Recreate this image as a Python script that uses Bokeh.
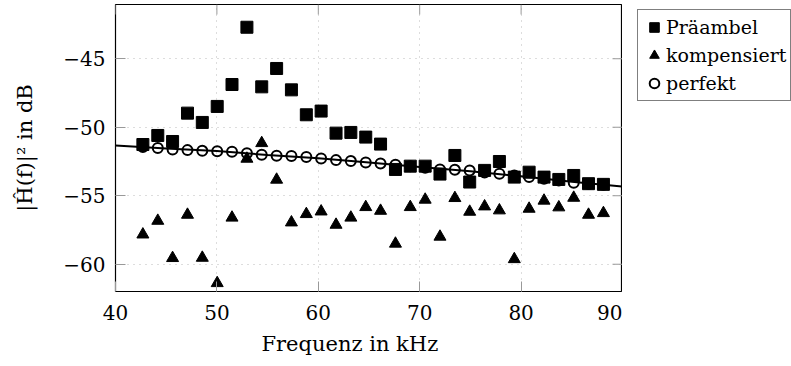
from bokeh.plotting import figure
from bokeh.layouts import row
from bokeh.models import (FixedTicker, Legend, LegendItem, Title, Range1d)
from bokeh.embed import file_html
from bokeh.resources import INLINE

# ---------------- data ----------------
freq_khz = [42.70, 44.17, 45.63, 47.10, 48.56, 50.03, 51.49, 52.96, 54.42, 55.89,
            57.35, 58.82, 60.28, 61.75, 63.21, 64.68, 66.14, 67.61, 69.07, 70.54,
            72.00, 73.47, 74.93, 76.40, 77.86, 79.33, 80.79, 82.26, 83.72, 85.19,
            86.65, 88.12]

praeambel_db = [-51.26, -50.60, -51.04, -48.97, -49.65, -48.48, -46.88, -42.70, -47.05, -45.71,
                -47.27, -49.09, -48.82, -50.43, -50.38, -50.72, -51.23, -53.08, -52.84, -52.84,
                -53.42, -52.06, -54.00, -53.15, -52.50, -53.64, -53.28, -53.64, -53.81, -53.52,
                -54.12, -54.17]

kompensiert_db = [-57.83, -56.83, -59.55, -56.39, -59.53, -61.38, -56.60, -52.30, -51.16, -53.83,
                  -56.95, -56.34, -56.15, -57.12, -56.60, -55.83, -56.10, -58.50, -55.83, -55.29,
                  -57.99, -55.17, -56.17, -55.78, -56.07, -59.63, -55.95, -55.36, -55.85, -55.15,
                  -56.39, -56.27]

perfekt_db = [-51.45, -51.52, -51.62, -51.67, -51.72, -51.75, -51.79, -51.89, -52.01, -52.08,
              -52.10, -52.18, -52.28, -52.40, -52.47, -52.57, -52.64, -52.74, -52.85, -52.95,
              -53.08, -53.10, -53.15, -53.30, -53.40, -53.52, -53.64, -53.76, -53.89, -54.05,
              -54.15, -54.20]

theory_f = [40, 45, 50, 55, 60, 65, 70, 75, 80, 85, 90]
theory_db = [-51.33, -51.55, -51.74, -52.02, -52.26, -52.58, -52.90, -53.22, -53.58, -53.98, -54.32]

x_ticks = [40, 50, 60, 70, 80, 90]
y_ticks = [-60, -55, -50, -45]
y_tick_labels = ["\u221260", "\u221255", "\u221250", "\u221245"]
series_names = ["Pr\u00e4ambel", "kompensiert", "perfekt"]
x_label = "Frequenz in kHz"
y_label = "|\u0124(f)|\u00b2 in dB"

# ---------------- styling ----------------
FONT = "DejaVu Serif"
TICK_COLOR = "#999999"
GRID_COLOR = "#bbbbbb"
W, H = 622, 366          # main plot (frame ends at its right edge)
LEG_W = 169              # legend strip to the right
B_LEFT, B_RIGHT, B_TOP, B_BOTTOM = 115, 0, 4, 75
X0, X1 = 40, 90
Y0, Y1 = -61.99, -41.04
TICK_PX = 10

p = figure(width=W, height=H, output_backend="svg", toolbar_location=None,
           x_range=Range1d(X0, X1), y_range=Range1d(Y0, Y1),
           min_border_left=B_LEFT, min_border_right=B_RIGHT,
           min_border_top=B_TOP, min_border_bottom=B_BOTTOM, title=None)
p.background_fill_color = "white"
p.border_fill_color = "white"
p.outline_line_color = "black"
p.outline_line_width = 1.2

p.xaxis.ticker = FixedTicker(ticks=x_ticks)
p.yaxis.ticker = FixedTicker(ticks=y_ticks)
p.yaxis.major_label_overrides = {t: s for t, s in zip(y_ticks, y_tick_labels)}

for ax in p.xaxis + p.yaxis:
    ax.axis_line_color = None
    ax.major_tick_in = TICK_PX
    ax.major_tick_out = 0
    ax.minor_tick_in = 0
    ax.minor_tick_out = 0
    ax.major_tick_line_color = TICK_COLOR
    ax.major_label_text_font = FONT
    ax.major_label_text_font_size = "20px"
    ax.major_label_text_color = "black"

p.xaxis.major_label_standoff = 13
p.yaxis.major_label_standoff = 10
p.yaxis.axis_label = y_label
p.yaxis.axis_label_text_font = FONT
p.yaxis.axis_label_text_font_size = "21px"
p.yaxis.axis_label_text_font_style = "normal"
p.yaxis.axis_label_text_color = "black"
p.yaxis.axis_label_standoff = 23

p.xgrid.ticker = FixedTicker(ticks=x_ticks)
p.ygrid.ticker = FixedTicker(ticks=y_ticks)
for g in (p.xgrid, p.ygrid):
    g.grid_line_color = GRID_COLOR
    g.grid_line_dash = "1 5"
    g.grid_line_width = 1

# inward tick marks on the top and right frame edges (mirroring the axis ticks)
frame_w = W - B_LEFT - B_RIGHT
frame_h = H - B_TOP - B_BOTTOM
dy = TICK_PX * (Y1 - Y0) / frame_h
dx = TICK_PX * (X1 - X0) / frame_w
p.segment(x0=x_ticks, y0=[Y1] * len(x_ticks), x1=x_ticks, y1=[Y1 - dy] * len(x_ticks),
          line_color=TICK_COLOR, line_width=1)
p.segment(x0=[X1] * len(y_ticks), y0=y_ticks, x1=[X1 - dx] * len(y_ticks), y1=y_ticks,
          line_color=TICK_COLOR, line_width=1)

# ---------------- glyphs ----------------
line_style = dict(line_color="black", line_width=2)
perf_style = dict(marker="circle", size=10, fill_color=None, line_color="black", line_width=2)
pre_style = dict(marker="square", size=12, fill_color="black", line_color="black", line_width=1)
komp_style = dict(marker="triangle", size=12, fill_color="black", line_color="black", line_width=1)

p.line(theory_f, theory_db, **line_style)
p.scatter(freq_khz, perfekt_db, **perf_style)
p.scatter(freq_khz, praeambel_db, **pre_style)
p.scatter(freq_khz, kompensiert_db, **komp_style)

xt = Title(text=x_label, align="left", offset=146, text_font=FONT, text_font_size="21px",
           text_font_style="normal", text_color="black", standoff=14)
p.add_layout(xt, "below")

# ---------------- legend strip (same series, outside its own visible range) ----------------
q = figure(width=LEG_W, height=H, output_backend="svg", toolbar_location=None,
           x_axis_type=None, y_axis_type=None, title=None,
           min_border_left=10, min_border_right=0, min_border_top=0, min_border_bottom=0,
           x_range=Range1d(0, 1), y_range=Range1d(0, 1))
q.outline_line_color = None
q.background_fill_color = "white"
q.border_fill_color = "white"
q.xgrid.visible = False
q.ygrid.visible = False
l_pre = q.scatter(freq_khz, praeambel_db, **pre_style)
l_komp = q.scatter(freq_khz, kompensiert_db, **komp_style)
l_perf = q.scatter(freq_khz, perfekt_db, **perf_style)

legend = Legend(items=[LegendItem(label=series_names[0], renderers=[l_pre]),
                       LegendItem(label=series_names[1], renderers=[l_komp]),
                       LegendItem(label=series_names[2], renderers=[l_perf])],
                location="top_left", border_line_color="black", border_line_width=1,
                background_fill_color="white", background_fill_alpha=1.0,
                padding=4, margin=5, spacing=2, glyph_width=24, glyph_height=26,
                label_height=26, label_standoff=0, label_text_font=FONT,
                label_text_color="black",
                label_text_font_size="19px", label_text_baseline="middle")
q.add_layout(legend)

open("out.html", "w").write(file_html(row(p, q), INLINE))
